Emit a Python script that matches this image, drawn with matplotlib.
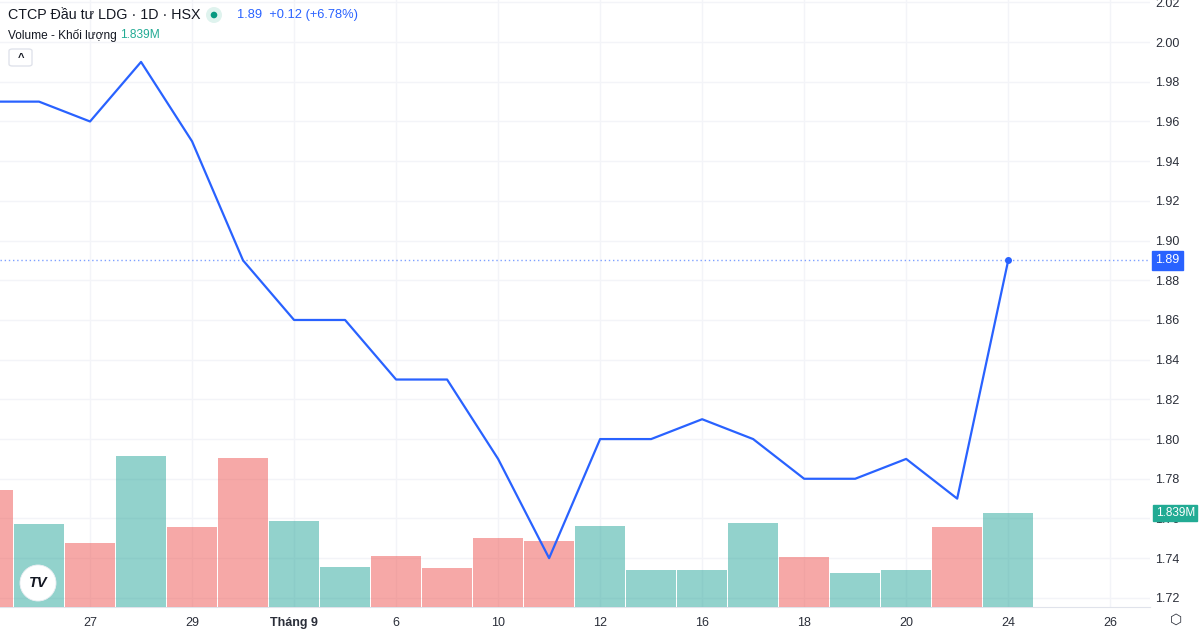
import numpy as np
import matplotlib
matplotlib.use("Agg")
from matplotlib import pyplot as plt
from matplotlib.patches import Ellipse, FancyBboxPatch

# Daily closes, one per trading session (index 0 is the partly hidden first bar)
closes = [1.97, 1.97, 1.96, 1.99, 1.95, 1.89, 1.86, 1.86, 1.83, 1.83, 1.79,
          1.74, 1.80, 1.80, 1.81, 1.80, 1.78, 1.78, 1.79, 1.77, 1.89]
# Volume in millions
volumes = [2.29, 1.62, 1.25, 2.95, 1.56, 2.91, 1.68, 0.78, 1.00, 0.76, 1.35,
           1.29, 1.58, 0.72, 0.72, 1.64, 0.98, 0.67, 0.72, 1.56, 1.839]
# 1 = up candle (teal), 0 = down candle (red)
up = [0, 1, 0, 1, 0, 0, 1, 1, 0, 0, 0, 0, 1, 1, 1, 1, 0, 1, 1, 0, 1]

xtick_pos = [2, 4, 6, 8, 10, 12, 14, 16, 18, 20, 22]
xtick_labels = ["27", "29", "Tháng 9", "6", "10", "12", "16", "18", "20", "24", "26"]
price_ticks = [1.72, 1.74, 1.76, 1.78, 1.80, 1.82, 1.84, 1.86, 1.88, 1.90,
               1.92, 1.94, 1.96, 1.98, 2.00, 2.02]

W, H = 1200, 637
plt.rcParams['font.family'] = ['Liberation Sans', 'DejaVu Sans']

blue = "#2962ff"
teal = "#26a69a"
red = "#ef5350"
grid_c = "#f3f4f8"
txt_c = "#131722"
axis_txt = "#2a2e39"

fig = plt.figure(figsize=(W / 100, H / 100), dpi=100)
rect = [0, 30 / H, 1150 / W, 607 / H]

x = np.arange(len(closes))
xlim = (0.235, 22.78)
ylim = (1.7154, 2.0212)


def circle(cx, cy, r, **kw):
    # circle given in pixels from the top-left corner
    return Ellipse((cx / W, 1 - cy / H), 2 * r / W, 2 * r / H,
                   transform=fig.transFigure, **kw)


# bottom: price grid
ax = fig.add_axes(rect)
ax.set_xlim(*xlim)
ax.set_ylim(*ylim)
ax.set_xticks(xtick_pos)
ax.set_xticklabels(xtick_labels)
ax.set_yticks(price_ticks)
ax.grid(True, color=grid_c, lw=1)
ax.tick_params(axis='both', length=0, labelsize=9, colors=axis_txt)
ax.tick_params(axis='y', labelleft=False, labelright=True, pad=4)
ax.tick_params(axis='x', pad=7)
for lbl in ax.get_xticklabels():
    if lbl.get_text() == "Tháng 9":
        lbl.set_fontweight("bold")
for s in ["top", "right", "left"]:
    ax.spines[s].set_visible(False)
ax.spines["bottom"].set_color("#e0e3eb")

# middle: volume bars
axv = fig.add_axes(rect, sharex=ax)
axv.patch.set_visible(False)
axv.set_ylim(0, 1.839 * 607 / 94)
bar_cols = [teal if u else red for u in up]
axv.bar(x, volumes, width=0.97, color=bar_cols, alpha=0.5, edgecolor="none")
axv.axis("off")

# top: price line
axl = fig.add_axes(rect, sharex=ax)
axl.patch.set_visible(False)
axl.set_ylim(*ylim)
axl.axis("off")
axl.plot(x, closes, color=blue, lw=1.6)
axl.plot(x[-1], closes[-1], "o", color=blue, ms=4)
axl.axhline(closes[-1], color=blue, lw=1, ls=(0, (1, 2)), alpha=0.6)

# price / volume labels on right axis
axl.annotate(f"{closes[-1]:.2f}", xy=(1.0, closes[-1]), xycoords=("axes fraction", "data"),
             xytext=(4, 0), textcoords="offset points", ha="left", va="center",
             color="white", fontsize=9, annotation_clip=False,
             bbox=dict(boxstyle="square,pad=0.25", fc=blue, ec=blue))
axv.annotate(f"{volumes[-1]:.3f}M", xy=(1.0, volumes[-1]), xycoords=("axes fraction", "data"),
             xytext=(4, 0), textcoords="offset points", ha="left", va="center",
             color="white", fontsize=8.5, annotation_clip=False, zorder=10,
             bbox=dict(boxstyle="square,pad=0.2", fc="#22ab94", ec="#22ab94"))

# header
fig.text(8 / W, 1 - 15 / H, "CTCP Đầu tư LDG · 1D · HSX", fontsize=10.3, color=txt_c,
         va="center", ha="left")
fig.patches.append(circle(214, 15, 8, fc="#dff3ee", ec="none"))
fig.patches.append(circle(214, 15, 3.3, fc="#089981", ec="none"))
fig.text(237 / W, 1 - 15 / H, "1.89  +0.12 (+6.78%)", fontsize=9.3, color=blue,
         va="center", ha="left")
fig.text(8 / W, 1 - 35 / H, "Volume - Khối lượng", fontsize=8.6, color=txt_c,
         va="center", ha="left")
fig.text(120 / W, 1 - 35 / H, "1.839M", fontsize=8.6, color="#22ab94",
         va="center", ha="left")
fig.patches.append(FancyBboxPatch((9 / W, 1 - 66 / H), 23 / W, 17 / H,
                                  boxstyle="round,pad=0,rounding_size=0.003",
                                  transform=fig.transFigure, fc="white", ec="#e0e3eb"))
fig.text(20.5 / W, 1 - 58 / H, "^", fontsize=8, color=txt_c, va="center", ha="center",
         fontweight="bold")

# logo
fig.patches.append(circle(38, 583, 18, fc="white", ec="#eceef3", lw=0.6))
fig.text(38 / W, 1 - 583 / H, "TV", fontsize=10.5, color=txt_c, va="center", ha="center",
         fontweight="bold", style="italic")

# settings icon
fig.text(1176 / W, 1 - 620 / H, "⬡", fontsize=10, color=axis_txt, va="center", ha="center")

fig.savefig("out.png", dpi=100, facecolor="white")
